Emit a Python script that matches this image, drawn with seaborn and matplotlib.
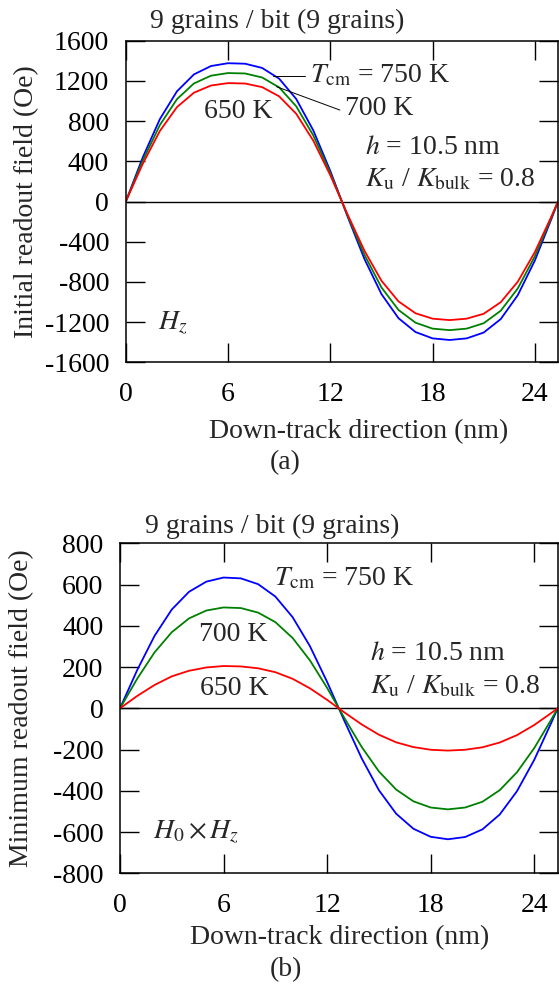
import numpy as np
import pandas as pd
import matplotlib
matplotlib.use("Agg")
import matplotlib.pyplot as plt
import seaborn as sns

# down-track positions (nm)
x_nm = [0, 1, 2, 3, 4, 5, 6, 7, 8, 9, 10, 11, 12, 13, 14, 15, 16, 17, 18, 19,
        20, 21, 22, 23, 24, 25, 25.36]

# (a) initial readout field (Oe)
init_750 = [0, 441, 820, 1096, 1265, 1348, 1376, 1371, 1329, 1222, 1020, 708, 304, -144,
            -571, -921, -1161, -1299, -1362, -1378, -1362, -1304, -1170, -932, -588, -162, 0]
init_700 = [0, 409, 761, 1018, 1175, 1252, 1278, 1274, 1234, 1135, 947, 658, 283, -134,
            -530, -855, -1079, -1206, -1265, -1280, -1265, -1211, -1087, -865, -546, -150, 0]
init_650 = [0, 377, 702, 939, 1083, 1154, 1178, 1174, 1138, 1046, 873, 606, 261, -124,
            -489, -788, -994, -1112, -1166, -1180, -1166, -1117, -1002, -798, -504, -139, 0]

# (b) minimum readout field (Oe)
min_750 = [0, 186, 351, 479, 565, 614, 634, 630, 602, 542, 442, 302, 128, -61,
           -242, -397, -511, -584, -623, -635, -624, -587, -515, -402, -250, -68, 0]
min_700 = [0, 144, 271, 369, 436, 474, 489, 486, 464, 418, 341, 233, 99, -47,
           -187, -306, -394, -451, -481, -490, -481, -453, -397, -310, -193, -53, 0]
min_650 = [0, 60, 113, 155, 182, 198, 205, 203, 194, 175, 143, 97, 41, -20,
           -78, -128, -165, -188, -201, -205, -201, -189, -166, -130, -81, -22, 0]

temps = ["750 K", "700 K", "650 K"]
palette = {"750 K": "#0000ff", "700 K": "#008000", "650 K": "#ff0000"}
x_ticks = [0, 6, 12, 18, 24]


def long_table(series):
    frames = []
    for t, vals in zip(temps, series):
        frames.append(pd.DataFrame({"x": x_nm, "field": vals, "T": t}))
    return pd.concat(frames, ignore_index=True)


df_a = long_table([init_750, init_700, init_650])
df_b = long_table([min_750, min_700, min_650])

sns.set_theme(style="ticks")
plt.rcParams["font.family"] = ["Liberation Serif", "DejaVu Serif"]
plt.rcParams["mathtext.fontset"] = "stix"
plt.rcParams["axes.unicode_minus"] = False

FS = 20
W, H = 559, 985
fig = plt.figure(figsize=(W / 100, H / 100), dpi=100)


def px_axes(l, t, r, b):
    return fig.add_axes([l / W, 1 - b / H, (r - l) / W, (b - t) / H])


def style_axes(ax, yticks):
    ax.set_xlim(0, 25.36)
    ax.set_ylim(yticks[0], yticks[-1])
    ax.set_xticks(x_ticks)
    ax.set_yticks(yticks)
    ax.set_yticklabels([str(v) for v in yticks])
    ax.tick_params(direction="in", length=13.5, width=1, top=True, right=True,
                   labelsize=FS, color="black", labelcolor="black")
    ax.tick_params(axis="x", pad=14)
    ax.tick_params(axis="y", pad=12)
    for s in ax.spines.values():
        s.set_linewidth(1.1)
        s.set_color("black")
    ax.set_xlabel("")
    ax.set_ylabel("")
    ax.axhline(0, color="black", lw=1, zorder=1)


# ---- panel (a)
ax1 = px_axes(125.8, 40.7, 558.0, 362.3)
sns.lineplot(data=df_a, x="x", y="field", hue="T", hue_order=temps, palette=palette,
             legend=False, lw=1.3, ax=ax1, sort=False)
style_axes(ax1, list(range(-1600, 1601, 400)))
ax1.plot([8.65, 10.5], [1252, 1252], color="black", lw=0.7)
ax1.plot([8.85, 12.56], [1142, 910], color="black", lw=0.7)
ax1.text(10.8, 1252, r"$T_{\rm cm}$ = 750 K", fontsize=FS, va="center", ha="left")
ax1.text(12.85, 925, "700 K", fontsize=FS, va="center", ha="left")
ax1.text(6.58, 900, "650 K", fontsize=FS, va="center", ha="center")
ax1.text(14.03, 542, r"$h$ = 10.5 nm", fontsize=FS, va="center", ha="left")
ax1.text(14.03, 214, r"$K_{\rm u}$ / $K_{\rm bulk}$ = 0.8", fontsize=FS, va="center", ha="left")
ax1.text(1.9, -1209, r"$H_z$", fontsize=FS, va="center", ha="left")

fig.text(277 / W, 1 - 21 / H, "9 grains / bit (9 grains)", fontsize=FS, ha="center", va="center")
fig.text(359 / W, 1 - 431.7 / H, "Down-track direction (nm)", fontsize=FS, ha="center", va="center")
fig.text(285 / W, 1 - 463 / H, "(a)", fontsize=FS, ha="center", va="center")
fig.text(27 / W, 1 - 201.5 / H, "Initial readout field (Oe)", fontsize=FS, rotation=90,
         ha="center", va="center")

# ---- panel (b)
ax2 = px_axes(120, 543.3, 557.7, 873.3)
sns.lineplot(data=df_b, x="x", y="field", hue="T", hue_order=temps, palette=palette,
             legend=False, lw=1.3, ax=ax2, sort=False)
style_axes(ax2, list(range(-800, 801, 200)))
ax2.text(8.9, 627, r"$T_{\rm cm}$ = 750 K", fontsize=FS, va="center", ha="left")
ax2.text(6.53, 360, "700 K", fontsize=FS, va="center", ha="center")
ax2.text(6.64, 96, "650 K", fontsize=FS, va="center", ha="center")
ax2.text(14.46, 266, r"$h$ = 10.5 nm", fontsize=FS, va="center", ha="left")
ax2.text(14.46, 105, r"$K_{\rm u}$ / $K_{\rm bulk}$ = 0.8", fontsize=FS, va="center", ha="left")
ax2.text(1.93, -598, r"$H_0 \times H_z$", fontsize=FS, va="center", ha="left")

fig.text(272 / W, 1 - 526 / H, "9 grains / bit (9 grains)", fontsize=FS, ha="center", va="center")
fig.text(340 / W, 1 - 938 / H, "Down-track direction (nm)", fontsize=FS, ha="center", va="center")
fig.text(286 / W, 1 - 970 / H, "(b)", fontsize=FS, ha="center", va="center")
fig.text(22 / W, 1 - 708.3 / H, "Minimum readout field (Oe)", fontsize=FS, rotation=90,
         ha="center", va="center")

fig.savefig("out.png", dpi=100, facecolor="white")
